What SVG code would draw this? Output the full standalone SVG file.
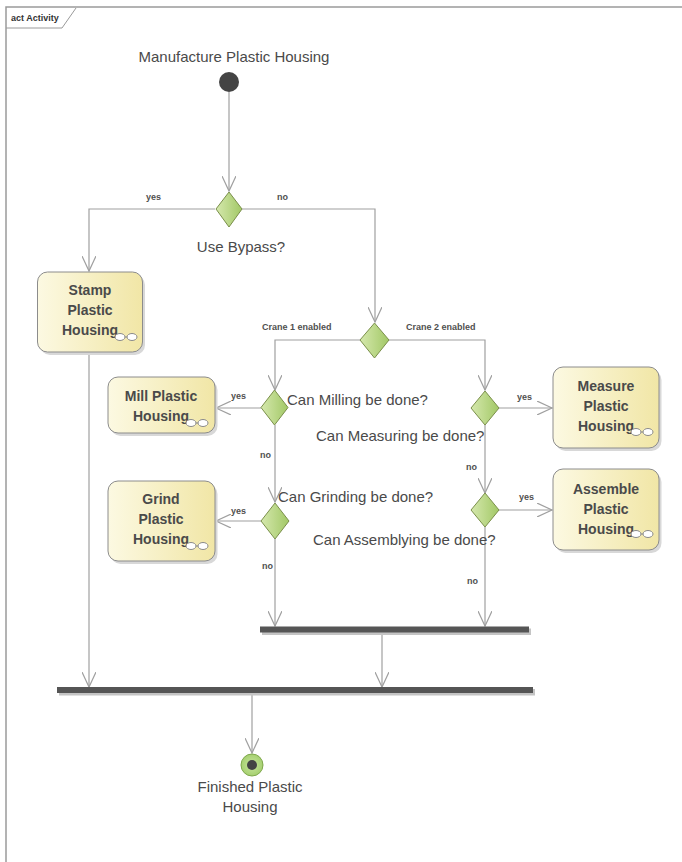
<svg xmlns="http://www.w3.org/2000/svg" width="682" height="862" viewBox="0 0 682 862">
<style>
.frame{fill:none;stroke:#9a9a9a;stroke-width:1.5}
.node{stroke:#8c8c8c;stroke-width:1;fill:url(#ng)}
.shadow{fill:#d8d8d8}
.dec{stroke:#7a8f4a;stroke-width:1;fill:url(#dg)}
.edge{fill:none;stroke:#a0a0a0;stroke-width:1.2}
.bar{fill:#555555}
.bars{fill:#c4c4c4}
.t{font-family:"Liberation Sans",Arial,sans-serif;font-size:15px;fill:#4a4a4a}
.nt{font-family:"Liberation Sans",Arial,sans-serif;font-size:14px;font-weight:bold;fill:#4a4a4a;text-anchor:middle}
.s{font-family:"Liberation Sans",Arial,sans-serif;font-size:9px;font-weight:bold;fill:#505050}
.ic{fill:#ffffff;stroke:#8a8a8a;stroke-width:1}
</style>
<defs>
<linearGradient id="ng" x1="0" y1="0" x2="1" y2="0">
<stop offset="0" stop-color="#fcf9e2"/>
<stop offset="1" stop-color="#f1e6a6"/>
</linearGradient>
<linearGradient id="dg" x1="0" y1="0" x2="1" y2="0">
<stop offset="0" stop-color="#d5e8ad"/>
<stop offset="1" stop-color="#a2c866"/>
</linearGradient>
<radialGradient id="fg">
<stop offset="0" stop-color="#c9e6a0"/>
<stop offset="1" stop-color="#a6d070"/>
</radialGradient>
<marker id="arr" markerUnits="userSpaceOnUse" markerWidth="18" markerHeight="14" refX="15" refY="7" orient="auto">
<path d="M0,0 L15,7 L0,14" fill="none" stroke="#a0a0a0" stroke-width="1.2"/>
</marker>
</defs>

<g id="frame">
<path class="frame" d="M6,862 V7 H682"/>
<path d="M6,28 H62 L76,8" fill="none" stroke="#9a9a9a" stroke-width="1"/>
<text x="11" y="21" font-family="Liberation Sans,Arial,sans-serif" font-size="9" font-weight="bold" fill="#333">act Activity</text>
</g>

<g id="connectors">
<path class="edge" d="M229,92 V191" marker-end="url(#arr)"/>
<path class="edge" d="M215,209 H89 V271" marker-end="url(#arr)"/>
<path class="edge" d="M242,209 H375 V322" marker-end="url(#arr)"/>
<path class="edge" d="M360,340 H275 V390" marker-end="url(#arr)"/>
<path class="edge" d="M389,340 H485 V390" marker-end="url(#arr)"/>
<path class="edge" d="M261,408 H216" marker-end="url(#arr)"/>
<path class="edge" d="M275,425 V502" marker-end="url(#arr)"/>
<path class="edge" d="M261,521 H216" marker-end="url(#arr)"/>
<path class="edge" d="M275,539 V626" marker-end="url(#arr)"/>
<path class="edge" d="M499,408 H552" marker-end="url(#arr)"/>
<path class="edge" d="M485,425 V493" marker-end="url(#arr)"/>
<path class="edge" d="M499,510 H552" marker-end="url(#arr)"/>
<path class="edge" d="M485,527 V626" marker-end="url(#arr)"/>
<path class="edge" d="M89,352 V687" marker-end="url(#arr)"/>
<path class="edge" d="M382,633 V687" marker-end="url(#arr)"/>
<path class="edge" d="M252,693 V753" marker-end="url(#arr)"/>
<text class="s" x="146" y="200">yes</text>
<text class="s" x="277" y="200">no</text>
<text class="s" x="262" y="330">Crane 1 enabled</text>
<text class="s" x="406" y="330">Crane 2 enabled</text>
<text class="s" x="231" y="399">yes</text>
<text class="s" x="260" y="458">no</text>
<text class="s" x="231" y="514">yes</text>
<text class="s" x="262" y="569">no</text>
<text class="s" x="517" y="400">yes</text>
<text class="s" x="466" y="470">no</text>
<text class="s" x="519" y="500">yes</text>
<text class="s" x="467" y="584">no</text>
</g>

<g id="start">
<text class="t" x="234" y="62" text-anchor="middle">Manufacture Plastic Housing</text>
<circle cx="229" cy="82" r="10" fill="#444444"/>
</g>

<g id="d_bypass">
<path class="dec" d="M229,192 L242,209 L229,227 L216,209 Z"/>
<text class="t" x="241" y="252" text-anchor="middle">Use Bypass?</text>
</g>

<g id="d_crane">
<path class="dec" d="M374.5,323 L389,340 L374.5,358 L360,340 Z"/>
</g>

<g id="d_mill">
<path class="dec" d="M274.5,390 L288,407.5 L274.5,425 L261,407.5 Z"/>
<text class="t" x="287" y="405">Can Milling be done?</text>
</g>

<g id="d_grind">
<path class="dec" d="M275,503 L289,521 L275,539 L261,521 Z"/>
<text class="t" x="278" y="502">Can Grinding be done?</text>
</g>

<g id="d_measure">
<path class="dec" d="M485,391 L499,408 L485,425 L471,408 Z"/>
<text class="t" x="316" y="441">Can Measuring be done?</text>
</g>

<g id="d_assemble">
<path class="dec" d="M485,493 L499,510 L485,527 L471,510 Z"/>
<text class="t" x="313" y="545">Can Assemblying be done?</text>
</g>

<g id="n_stamp">
<rect class="shadow" x="40" y="275" width="105" height="80" rx="10"/>
<rect class="node" x="37.5" y="272" width="105" height="80" rx="10"/>
<text class="nt" x="90" y="295">Stamp</text>
<text class="nt" x="90" y="315">Plastic</text>
<text class="nt" x="90" y="335">Housing</text>
<g><line x1="120" y1="337" x2="132" y2="337" stroke="#8a8a8a"/><ellipse class="ic" cx="120" cy="337" rx="5" ry="3.5"/><ellipse class="ic" cx="132" cy="337" rx="5" ry="3.5"/></g>
</g>

<g id="n_mill">
<rect class="shadow" x="110.5" y="380" width="107" height="56" rx="10"/>
<rect class="node" x="108" y="377" width="107" height="56" rx="10"/>
<text class="nt" x="161" y="401">Mill Plastic</text>
<text class="nt" x="161" y="421">Housing</text>
<g><line x1="191" y1="423" x2="203" y2="423" stroke="#8a8a8a"/><ellipse class="ic" cx="191" cy="423" rx="5" ry="3.5"/><ellipse class="ic" cx="203" cy="423" rx="5" ry="3.5"/></g>
</g>

<g id="n_grind">
<rect class="shadow" x="110.5" y="484" width="107" height="80" rx="10"/>
<rect class="node" x="108" y="481" width="107" height="80" rx="10"/>
<text class="nt" x="161" y="504">Grind</text>
<text class="nt" x="161" y="524">Plastic</text>
<text class="nt" x="161" y="544">Housing</text>
<g><line x1="191" y1="546" x2="203" y2="546" stroke="#8a8a8a"/><ellipse class="ic" cx="191" cy="546" rx="5" ry="3.5"/><ellipse class="ic" cx="203" cy="546" rx="5" ry="3.5"/></g>
</g>

<g id="n_measure">
<rect class="shadow" x="555.5" y="370" width="106" height="81" rx="10"/>
<rect class="node" x="553" y="367" width="106" height="81" rx="10"/>
<text class="nt" x="606" y="391">Measure</text>
<text class="nt" x="606" y="411">Plastic</text>
<text class="nt" x="606" y="431">Housing</text>
<g><line x1="636" y1="432" x2="648" y2="432" stroke="#8a8a8a"/><ellipse class="ic" cx="636" cy="432" rx="5" ry="3.5"/><ellipse class="ic" cx="648" cy="432" rx="5" ry="3.5"/></g>
</g>

<g id="n_assemble">
<rect class="shadow" x="555.5" y="472" width="106" height="81" rx="10"/>
<rect class="node" x="553" y="469" width="106" height="81" rx="10"/>
<text class="nt" x="606" y="494">Assemble</text>
<text class="nt" x="606" y="514">Plastic</text>
<text class="nt" x="606" y="534">Housing</text>
<g><line x1="636" y1="534" x2="648" y2="534" stroke="#8a8a8a"/><ellipse class="ic" cx="636" cy="534" rx="5" ry="3.5"/><ellipse class="ic" cx="648" cy="534" rx="5" ry="3.5"/></g>
</g>

<g id="join1">
<rect class="bars" x="262" y="628.5" width="269" height="6.5"/>
<rect class="bar" x="260" y="626.5" width="269" height="6"/>
</g>

<g id="join2">
<rect class="bars" x="59" y="689" width="476" height="6.5"/>
<rect class="bar" x="57" y="687" width="476" height="6"/>
</g>

<g id="final">
<circle cx="252" cy="765" r="11" fill="url(#fg)" stroke="#7fa84c" stroke-width="1"/>
<circle cx="252" cy="765" r="5" fill="#444444"/>
<text class="t" x="250" y="792" text-anchor="middle">Finished Plastic</text>
<text class="t" x="250" y="812" text-anchor="middle">Housing</text>
</g>
</svg>
